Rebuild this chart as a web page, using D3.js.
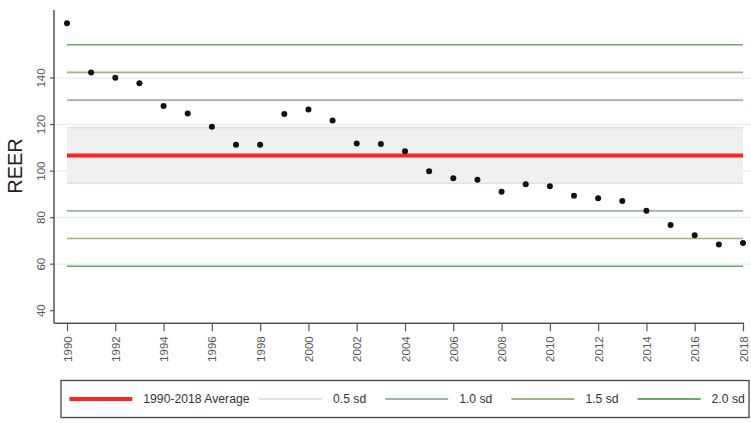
<!DOCTYPE html>
<html>
<head>
<meta charset="utf-8">
<script src="https://cdn.jsdelivr.net/npm/d3@7"></script>
<style>
  html, body { margin: 0; padding: 0; background: #fff; }
  svg { display: block; font-family: "Liberation Sans", Arial, sans-serif; }
</style>
</head>
<body>
<svg id="chart" width="751" height="423"></svg>
<script>
// ---- data ----
const years = d3.range(1990, 2019);
const reer = [163.5, 142.4, 140.1, 137.7, 128.0, 124.7, 119.0, 111.3, 111.3, 124.5,
              126.5, 121.7, 111.9, 111.6, 108.5, 99.9, 96.9, 96.3, 91.1, 94.3,
              93.5, 89.4, 88.3, 87.1, 83.0, 76.8, 72.4, 68.5, 69.1];
const average = 106.7;
const sd = 23.8;
const sdMultiples = [0.5, 1.0, 1.5, 2.0];
const sdLabels = ["0.5 sd", "1.0 sd", "1.5 sd", "2.0 sd"];
const sdColors = ["#d9e8d3", "#9db5ab", "#9fb27f", "#67a865"];
const yTicks = [40, 60, 80, 100, 120, 140];
const xTicks = d3.range(1990, 2019, 2);
const avgLabel = "1990-2018 Average";

// ---- layout ----
const svg = d3.select("#chart");
const x = d3.scaleLinear().domain([1990, 2018]).range([67, 743]);
const y = d3.scaleLinear().domain([40, 140]).range([310.7, 78]);
const axisX = 54, axisY = 323.3, plotTop = 10, plotRight = 751;

// gridlines
svg.append("g").selectAll("line").data(yTicks.slice(1)).join("line")
  .attr("x1", axisX).attr("x2", plotRight)
  .attr("y1", d => y(d)).attr("y2", d => y(d))
  .attr("stroke", "#eaf1f4").attr("stroke-width", 1.5);

// shaded 0.5 sd band
svg.append("rect")
  .attr("x", x(1990)).attr("width", x(2018) - x(1990))
  .attr("y", y(average + 0.5 * sd)).attr("height", y(average - 0.5 * sd) - y(average + 0.5 * sd))
  .attr("fill", "#f0f0f0");

// sd lines
const sdLines = [];
sdMultiples.forEach((m, i) => {
  sdLines.push({v: average + m * sd, c: sdColors[i]});
  sdLines.push({v: average - m * sd, c: sdColors[i]});
});
svg.append("g").selectAll("line").data(sdLines).join("line")
  .attr("x1", x(1990)).attr("x2", x(2018))
  .attr("y1", d => y(d.v)).attr("y2", d => y(d.v))
  .attr("stroke", d => d.c).attr("stroke-width", 1.6);

// average line
svg.append("line")
  .attr("x1", x(1990)).attr("x2", x(2018))
  .attr("y1", y(average)).attr("y2", y(average))
  .attr("stroke", "#ff2222").attr("stroke-width", 4);

// points
svg.append("g").selectAll("circle").data(years).join("circle")
  .attr("cx", d => x(d)).attr("cy", (d, i) => y(reer[i]))
  .attr("r", 3).attr("fill", "#111");

// y axis
const yAxis = svg.append("g").attr("transform", `translate(${axisX},0)`)
  .call(d3.axisLeft(y).tickValues(yTicks).tickSize(4).tickSizeOuter(0));
yAxis.select(".domain").remove();
yAxis.selectAll(".tick").attr("transform", null);
yAxis.selectAll(".tick line").attr("stroke", "#555").attr("stroke-width", 1.2)
  .attr("y1", d => y(d)).attr("y2", d => y(d)).attr("x2", -4);
yAxis.selectAll(".tick text")
  .attr("x", 0).attr("y", 0).attr("dy", null)
  .attr("transform", d => `translate(-9,${y(d)}) rotate(-90)`)
  .attr("text-anchor", "middle")
  .attr("fill", "#555").attr("font-size", 11.5)
  .attr("font-family", "'Liberation Sans', Arial, sans-serif");
svg.append("line").attr("x1", axisX).attr("x2", axisX).attr("y1", plotTop).attr("y2", axisY)
  .attr("stroke", "#555").attr("stroke-width", 1.5);

// x axis
const xAxis = svg.append("g").attr("transform", `translate(0,${axisY})`)
  .call(d3.axisBottom(x).tickValues(xTicks).tickFormat(d3.format("d")).tickSize(8).tickSizeOuter(0));
xAxis.select(".domain").remove();
xAxis.selectAll(".tick line").attr("stroke", "#555").attr("stroke-width", 1.2);
xAxis.selectAll(".tick text")
  .attr("transform", "rotate(-90)").attr("x", -13).attr("y", 0).attr("dy", "0.35em")
  .attr("text-anchor", "end").attr("fill", "#555").attr("font-size", 11.5)
  .attr("font-family", "'Liberation Sans', Arial, sans-serif");
svg.append("line").attr("x1", axisX).attr("x2", x(2018) + 1).attr("y1", axisY).attr("y2", axisY)
  .attr("stroke", "#555").attr("stroke-width", 1.5);

// y label
svg.append("text").attr("transform", "translate(22,166) rotate(-90)")
  .attr("text-anchor", "middle").attr("font-size", 20).attr("fill", "#222").text("REER");

// legend
const lg = svg.append("g");
lg.append("rect").attr("x", 61).attr("y", 380.5).attr("width", 688).attr("height", 37)
  .attr("fill", "#fff").attr("stroke", "#444").attr("stroke-width", 1.3);
const legendItems = [{label: avgLabel, c: "#ff2222", w: 4, x0: 69.3}]
  .concat(sdLabels.map((l, i) => ({label: l, c: sdColors[i], w: 2, x0: 259 + i * 126.2})));
const li = lg.selectAll("g.item").data(legendItems).join("g").attr("class", "item");
li.append("line").attr("x1", d => d.x0).attr("x2", d => d.x0 + 63)
  .attr("y1", 399).attr("y2", 399).attr("stroke", d => d.c).attr("stroke-width", d => d.w);
li.append("text").attr("x", d => d.x0 + 74).attr("y", 399).attr("dy", "0.35em")
  .attr("font-size", 12.2).attr("fill", "#333").text(d => d.label);
</script>
</body>
</html>
